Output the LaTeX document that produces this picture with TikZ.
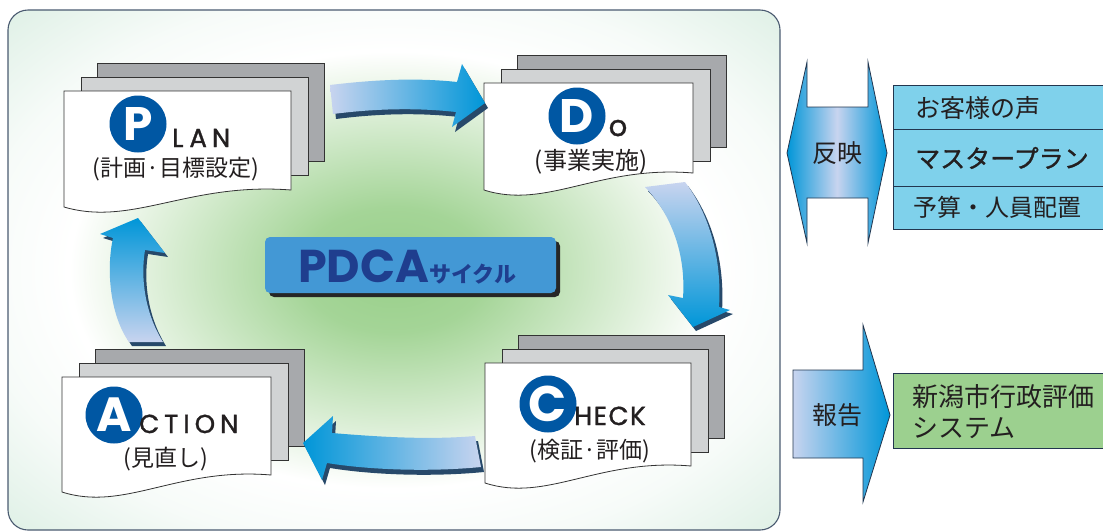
\documentclass[tikz,border=0pt]{standalone}
\usepackage{fontspec}
\newfontfamily\jp{Noto Sans CJK JP}
\newfontfamily\jpm[FakeBold=1.2]{Noto Sans CJK JP}
\newfontfamily\pop{Poppins}
\newfontfamily\popm[FakeBold=1.3]{Poppins}
\usetikzlibrary{shadings}
\definecolor{circ}{HTML}{0057A3}
\definecolor{pgdark}{HTML}{A7A9AC}
\definecolor{pgmid}{HTML}{D1D3D4}
\definecolor{alight}{HTML}{C8D4EF}
\definecolor{ablue}{HTML}{0096D8}
\definecolor{ashadow}{HTML}{27496A}
\definecolor{pdcafill}{HTML}{4398D5}
\definecolor{pdcatext}{HTML}{1F3E8E}
\definecolor{cyanbox}{HTML}{7FD1EB}
\definecolor{greenbox}{HTML}{9CD08F}
\definecolor{txt}{HTML}{231F20}
\definecolor{bgg}{HTML}{98CF89}
\definecolor{bgm}{HTML}{C7E5D3}
\definecolor{framec}{HTML}{4A5A70}
\definecolor{edgec}{HTML}{22364F}
\pgfdeclareradialshading{bgshade}{\pgfpoint{0bp}{0bp}}{color(0bp)=(bgg); color(6bp)=(bgg!88!white); color(21bp)=(white); color(27bp)=(white!85!bgm); color(44bp)=(bgm); color(80bp)=(bgm)}
\newcommand\docstack[5]{%
  \draw[pagedraw, fill=pgdark] (#1+33,#2-28) rectangle ++(#3,#4);
  \draw[pagedraw, fill=pgmid] (#1+17,#2-14) rectangle ++(#3,#4);
  \draw[pagedraw, fill=white] (#1,#2) -- (#1+#3,#2) -- (#1+#3,#2+#5-17)
     .. controls (#1+0.55*#3,#2+#5-25) and (#1+0.3*#3,#2+#5+20) .. (#1,#2+#5) -- cycle;}
\newcommand\arrowone[1]{\path[#1] (330,85) .. controls (380,79) and (420,78) .. (457,82) -- (462,64) -- (485,103) -- (452,127) -- (456,112) .. controls (420,108) and (380,108) .. (333,114) -- cycle;}
\newcommand\arrowtwo[1]{\path[#1] (645,187) -- (685,182) .. controls (710,215) and (722,260) .. (719,307) -- (730,310) -- (693,327) -- (668,295) -- (683,298) .. controls (686,255) and (672,215) .. (645,187) -- cycle;}
\newcommand\arrowthree[1]{\path[#1] (475,436) -- (481,467) .. controls (430,472) and (370,470) .. (327,463) -- (322,480) -- (303,443) -- (333,416) -- (332,433) .. controls (380,437) and (430,440) .. (475,436) -- cycle;}
\newcommand\arrowfour[1]{\path[#1] (129,342) -- (163,342) .. controls (146,315) and (140,280) .. (145,250) -- (165,253) -- (138,218) -- (100,234) -- (113,238) .. controls (106,270) and (110,315) .. (129,342) -- cycle;}
\begin{document}
\begin{tikzpicture}[x=1pt,y=-1pt,
  pagedraw/.style={draw=black!80, line width=0.8pt},
  letterdisc/.style={circle, fill=circ, minimum size=57pt, inner sep=0pt},
  discletter/.style={text=white, inner sep=0pt, font=\pop\bfseries\fontsize{47}{47}\selectfont},
  latin/.style={text=txt, inner sep=0pt, font=\popm\fontsize{26}{26}\selectfont},
  jplabel/.style={text=txt, inner sep=0pt, font=\jp\fontsize{23}{27}\selectfont},
  sidetxt/.style={text=txt, inner sep=0pt, anchor=west},
  boxline/.style={draw=edgec, line width=0.8pt}]
\useasboundingbox (0,0) rectangle (1103,531);
% background frame
\path[shade, shading=bgshade, draw=framec, line width=1.1pt, rounded corners=20pt] (8,10) rectangle (780,530);
% stacks
\docstack{64}{91}{227}{98}{116}
\docstack{484}{83}{209}{92}{107}
\docstack{485}{363}{206}{103}{120}
\docstack{62}{377}{209}{97}{115}
% arrows
\arrowone{fill=ashadow, shift={(3,5)}}
\arrowone{left color=alight, right color=ablue}
\arrowtwo{fill=ashadow, shift={(3,4)}}
\arrowtwo{top color=alight, bottom color=ablue}
\arrowthree{fill=ashadow, shift={(3,5)}}
\arrowthree{left color=ablue, right color=alight}
\arrowfour{fill=ashadow, shift={(3,4)}}
\arrowfour{top color=ablue, bottom color=alight}
% PLAN
\node[letterdisc] (pdisc) at (138,124) {};
\node[discletter] (pletter) at (pdisc) {P};
\node[latin, anchor=base west] (plan) at (172,147) {L\kern6pt A\kern5pt N};
\node[jplabel] (plantxt) at (176,169) {(計画·目標設定)};
% DO
\node[letterdisc] (ddisc) at (577,116) {};
\node[discletter] (dletter) at (ddisc) {D};
\node[latin, anchor=base, font=\popm\fontsize{29}{29}\selectfont] (doo) at (618,136) {o};
\node[jplabel, font=\jp\fontsize{24}{28}\selectfont] (dotxt) at (591,162) {(事業実施)};
% CHECK
\node[letterdisc] (cdisc) at (548,404) {};
\node[discletter, font=\pop\bfseries\fontsize{50}{50}\selectfont] (cletter) at (cdisc) {C};
\node[latin, anchor=base west] (check) at (574,425) {H\kern1.5pt E\kern1.5pt C\kern1.5pt K};
\node[jplabel] (checktxt) at (590,451) {(検証·評価)};
% ACTION
\node[letterdisc] (adisc) at (114,415) {};
\node[discletter, font=\pop\bfseries\fontsize{48}{48}\selectfont] (aletter) at (adisc) {A};
\node[latin, anchor=base west] (action) at (139,433) {C\kern5pt T\kern5pt I\kern5pt O\kern5pt N};
\node[jplabel] (actiontxt) at (166,459) {(見直し)};
% PDCA box
\fill[black!85, rounded corners=5pt] (269,241) rectangle (560,297);
\node[fill=pdcafill, rounded corners=5pt, minimum width=291pt, minimum height=56pt, inner sep=0pt] (pdca) at (410.5,265) {};
\node[anchor=base west, inner sep=0pt, text=pdcatext] (pdcatxt) at (298,282) {{\pop\bfseries\fontsize{46}{46}\selectfont PDCA}{\jp\bfseries\fontsize{22}{22}\selectfont サイクル}};
% reflect double arrow
\path[left color=ablue, right color=ablue, middle color=alight, draw=edgec, line width=0.8pt] (807,62) -- (807,107) -- (868,107) -- (868,62) -- (887,153) -- (868,243) -- (868,198) -- (807,198) -- (807,243) -- (787,153) -- cycle;
\node[text=txt, inner sep=0pt, font=\jp\fontsize{25}{29}\selectfont] (hanei) at (837,153) {反映};
% report arrow
\path[left color=alight, right color=ablue, draw=edgec, line width=0.8pt] (793,370) -- (863,370) -- (863,325) -- (890,415) -- (863,502) -- (863,458) -- (793,458) -- cycle;
\node[text=txt, inner sep=0pt, font=\jp\fontsize{25}{29}\selectfont] (houkoku) at (837,415) {報告};
% cyan boxes
\draw[boxline, fill=cyanbox] (893,85) rectangle (1110,129);
\draw[boxline, fill=cyanbox] (893,129) rectangle (1110,186);
\draw[boxline, fill=cyanbox] (893,186) rectangle (1110,229);
\node[sidetxt, font=\jp\fontsize{25}{29}\selectfont] (voice) at (915,108) {お客様の声};
\node[sidetxt, font=\jpm\fontsize{25}{29}\selectfont] (master) at (915,158) {マスタープラン};
\node[sidetxt, font=\jp\fontsize{24}{28}\selectfont] (budget) at (913,207) {予算・人員配置};
% green box
\draw[boxline, fill=greenbox] (893,373) rectangle (1110,448);
\node[sidetxt, font=\jp\fontsize{26}{31}\selectfont] (sys1) at (912,397) {新潟市行政評価};
\node[sidetxt, font=\jp\fontsize{26}{31}\selectfont] (sys2) at (912,428) {システム};
\end{tikzpicture}
\end{document}
